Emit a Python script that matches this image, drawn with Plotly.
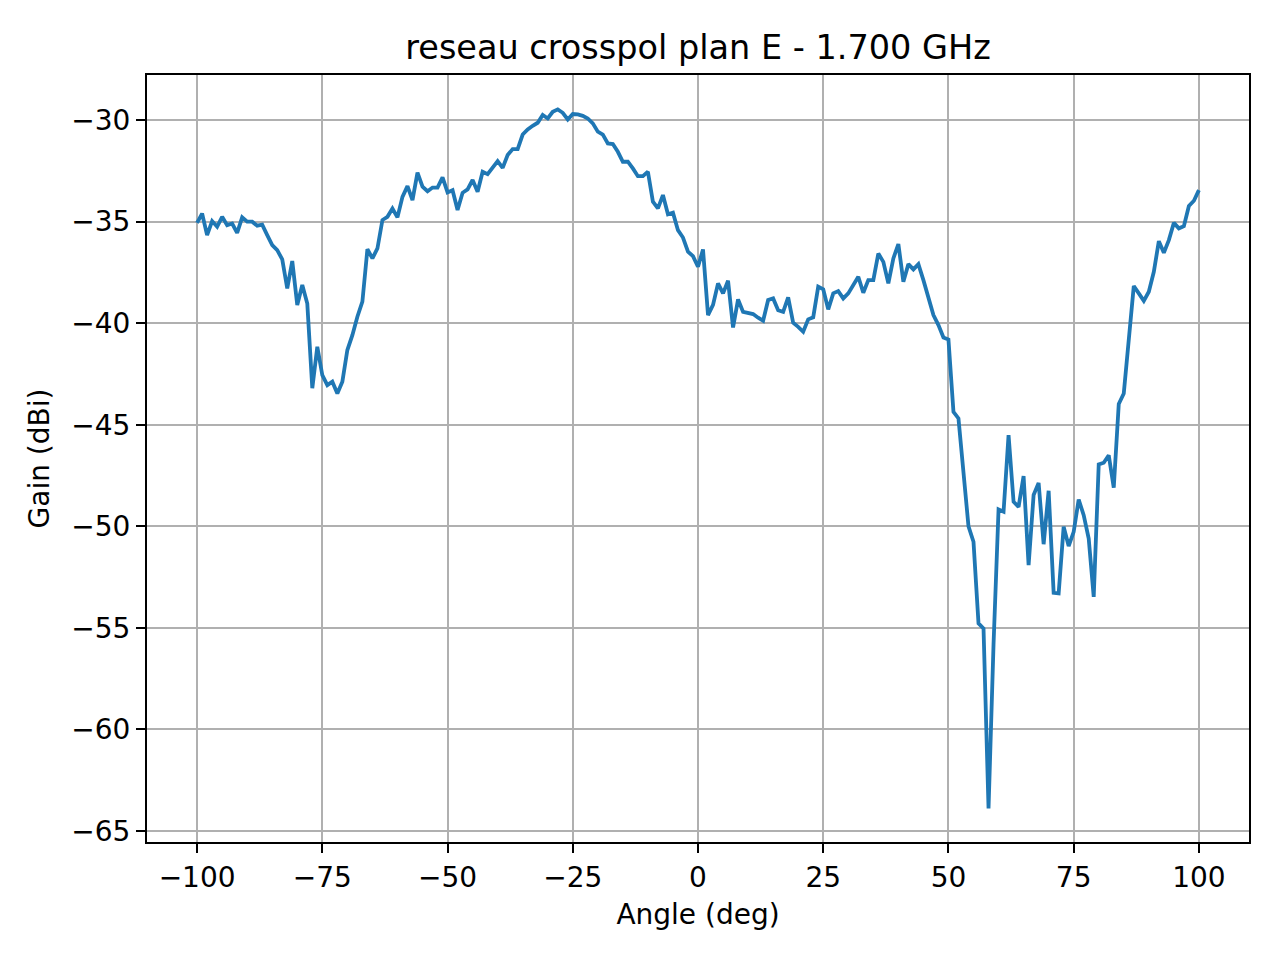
import plotly.graph_objects as go

angles = list(range(-100, 101))

gain = [
    -35.06, -34.60, -35.66, -34.97, -35.25, -34.76, -35.17, -35.09, -35.55, -34.79,  # -100..-91
    -35.00, -35.00, -35.20, -35.15, -35.66, -36.15, -36.40, -36.86, -38.29, -36.94,  # -90..-81
    -39.10, -38.12, -39.03, -43.20, -41.16, -42.56, -43.05, -42.88, -43.46, -42.88,  # -80..-71
    -41.32, -40.59, -39.68, -38.94, -36.36, -36.81, -36.32, -34.92, -34.76, -34.35,  # -70..-61
    -34.79, -33.78, -33.25, -33.94, -32.59, -33.28, -33.50, -33.32, -33.32, -32.82,  # -60..-51
    -33.56, -33.45, -34.43, -33.58, -33.41, -32.95, -33.53, -32.54, -32.66, -32.30,  # -50..-41
    -32.02, -32.35, -31.72, -31.43, -31.43, -30.71, -30.46, -30.28, -30.13, -29.75,  # -40..-31
    -29.92, -29.59, -29.47, -29.64, -29.97, -29.70, -29.72, -29.79, -29.92, -30.16,  # -30..-21
    -30.57, -30.71, -31.15, -31.18, -31.56, -32.05, -32.05, -32.38, -32.76, -32.76,  # -20..-11
    -32.54, -34.02, -34.35, -33.69, -34.64, -34.56, -35.42, -35.78, -36.48, -36.70,  # -10..-1
    -37.22,                                                                          # 0
    -36.37, -39.60, -39.10, -38.04, -38.53, -37.91, -40.21, -38.83, -39.44, -39.49,  # 1..10
    -39.55, -39.73, -39.88, -38.86, -38.78, -39.36, -39.44, -38.73, -39.98, -40.18,  # 11..20
    -40.42, -39.81, -39.71, -38.20, -38.33, -39.32, -38.53, -38.42, -38.78, -38.53,  # 21..30
    -38.12, -37.71, -38.50, -37.88, -37.88, -36.57, -36.98, -38.04, -36.81, -36.10,  # 31..40
    -37.96, -37.09, -37.35, -37.09, -37.88, -38.78, -39.60, -40.09, -40.70, -40.80,  # 41..50
    -44.36, -44.69, -47.50, -50.00, -50.76, -54.78, -55.03, -63.89, -55.80, -49.17,  # 51..60
    -49.28, -45.51, -48.79, -49.04, -47.53, -51.91, -48.46, -47.86, -50.88, -48.25,  # 61..70
    -53.27, -53.30, -50.02, -50.97, -50.27, -48.68, -49.45, -50.60, -53.47, -46.95,  # 71..80
    -46.87, -46.50, -48.10, -43.98, -43.46, -41.00, -38.17, -38.53, -38.90, -38.45,  # 81..90
    -37.47, -35.96, -36.53, -35.91, -35.06, -35.33, -35.22, -34.23, -33.97, -33.45,  # 91..100
]

x_ticks = [-100, -75, -50, -25, 0, 25, 50, 75, 100]
y_ticks = [-65, -60, -55, -50, -45, -40, -35, -30]

title_text = "reseau crosspol plan E - 1.700 GHz"
x_label = "Angle (deg)"
y_label = "Gain (dBi)"

FONT = "DejaVu Sans"

fig = go.Figure()
fig.add_trace(go.Scatter(
    x=angles, y=gain, mode="lines",
    line=dict(color="#1f77b4", width=3.8),
    showlegend=False,
))

axis_common = dict(
    showline=True, linecolor="black", linewidth=2, mirror=True,
    showgrid=True, gridcolor="#b0b0b0", gridwidth=2,
    zeroline=False,
    ticks="outside", ticklen=9, tickwidth=2, tickcolor="black",
    tickfont=dict(family=FONT, size=28, color="black"),
)

fig.update_layout(
    width=1280, height=960,
    paper_bgcolor="white", plot_bgcolor="white",
    margin=dict(l=139, r=39, t=67, b=126),
    title=dict(text=title_text, x=0.5, xref="paper", xanchor="center",
               y=1 - 39 / 960, yref="container", yanchor="middle",
               font=dict(family=FONT, size=33.5, color="black")),
    xaxis=dict(range=[-110, 110], tickvals=x_ticks,
               title=dict(text=x_label, font=dict(family=FONT, size=28, color="black"), standoff=12),
               **axis_common),
    yaxis=dict(range=[-65.54, -27.78], tickvals=y_ticks,
               title=dict(text=y_label, font=dict(family=FONT, size=28, color="black"), standoff=14),
               **axis_common),
    font=dict(family=FONT, color="black"),
)

fig.write_html("out.html")
